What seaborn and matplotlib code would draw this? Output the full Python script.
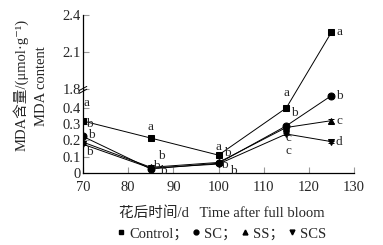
import numpy as np
import pandas as pd
import matplotlib
matplotlib.use("Agg")
import matplotlib.pyplot as plt
import seaborn as sns

# %% data
days = [70, 85, 100, 115, 125]
control = [0.32, 0.215, 0.11, 0.40, 2.26]
sc = [0.225, 0.025, 0.06, 0.29, 0.476]
ss = [0.19, 0.035, 0.065, 0.28, 0.322]
scs = [0.177, 0.03, 0.055, 0.24, 0.193]
err_control = [0.01, 0.005, 0.005, 0.008, 0.02]
err_sc = [0.006, 0.004, 0.004, 0.008, 0.01]
err_ss = [0.006, 0.004, 0.004, 0.008, 0.012]
err_scs = [0.006, 0.004, 0.004, 0.008, 0.006]
groups = ["Control", "SC", "SS", "SCS"]
legend_labels = ["Control；", "SC；", "SS；", "SCS"]

# significance letters (day, value, text)
letters = [
    (70.8, 0.43, "a"), (71.5, 0.30, "b"), (71.8, 0.232, "b"), (71.4, 0.128, "b"),
    (85.0, 0.285, "a"), (87.4, 0.105, "b"), (86.3, 0.043, "b"), (87.8, 0.012, "b"),
    (100.1, 0.162, "a"), (102.0, 0.121, "b"), (101.4, 0.05, "b"), (103.3, 0.012, "b"),
    (115.1, 0.494, "a"), (116.7, 0.367, "b"), (115.4, 0.214, "c"), (115.4, 0.137, "c"),
    (126.7, 2.265, "a"), (126.7, 0.476, "b"), (126.7, 0.32, "c"), (126.7, 0.193, "d"),
]

yticks = [0, 0.1, 0.2, 0.3, 0.4, 1.8, 2.1, 2.4]
ytick_labels = ["0", "0.1", "0.2", "0.3", "0.4", "1.8", "2.1", "2.4"]
xticks = [70, 80, 90, 100, 110, 120, 130]

df = pd.DataFrame({
    "day": days * 4,
    "mda": control + sc + ss + scs,
    "err": err_control + err_sc + err_ss + err_scs,
    "group": np.repeat(groups, len(days)),
})

# %% broken axis as a piecewise linear scale
brk_y = [-10, 0, 0.5, 1.8, 2.4, 10]
brk_z = [-1625, 0, 81.25, 84, 158, 158 + 7.6 * 123.3]

def fwd(y):
    return np.interp(y, brk_y, brk_z)

def inv(z):
    return np.interp(z, brk_z, brk_y)

# %%
sns.set_style("ticks")
plt.rcParams["font.family"] = ["Liberation Serif", "Noto Sans CJK SC", "DejaVu Serif"]

fig = plt.figure(figsize=(3.83, 2.45), dpi=100)
ax = fig.add_axes([0.2167, 0.2939, 0.7076, 0.6449])
ax.set_yscale("function", functions=(fwd, inv))

markers = {"Control": "s", "SC": "o", "SS": "^", "SCS": "v"}
palette = {g: "black" for g in groups}
sns.lineplot(data=df, x="day", y="mda", hue="group", style="group",
             markers=markers, dashes=False, palette=palette, markersize=5,
             markeredgecolor="black", linewidth=0.7, legend=False, ax=ax)

for g in groups:
    d = df[df.group == g]
    ax.errorbar(d.day, d.mda, yerr=d.err, fmt="none", ecolor="black",
                elinewidth=0.7, capsize=2, capthick=0.7)

for x, y, t in letters:
    ax.text(x, y, t, fontsize=9.5, ha="center", va="center")

ax.set_xlim(70, 130)
ax.set_ylim(0, 2.4)
ax.set_xticks(xticks)
ax.set_yticks(yticks)
ax.set_yticklabels(ytick_labels)
ax.tick_params(direction="in", length=4, width=0.8, color="#999999",
               labelsize=10.5)
ax.tick_params(axis="y", pad=1.5)
ax.tick_params(axis="x", pad=5.5)
ax.set_xlabel("")
ax.set_ylabel("")
sns.despine(ax=ax)
for s in ["left", "bottom"]:
    ax.spines[s].set_linewidth(0.9)
    ax.spines[s].set_color("black")

# break mark on the y axis
for off in [0.0, -0.018]:
    ax.plot([-0.014, 0.014], [0.522 + off, 0.548 + off], color="black",
            lw=0.7, transform=ax.transAxes, clip_on=False)

# axis titles
fig.text(0.054, 0.655, "MDA含量/(μmol·g⁻¹)", rotation=90,
         ha="center", va="center", fontsize=10.5)
fig.text(0.109, 0.648, "MDA content", rotation=90, ha="center", va="center",
         fontsize=10.5)
fig.text(0.58, 0.13, "花后时间/d   Time after full bloom", ha="center",
         va="center", fontsize=10.5)

# legend
handles = [plt.Line2D([], [], marker=markers[g], color="black", ls="none",
                      markersize=3.5) for g in groups]
fig.legend(handles, legend_labels, loc="center", bbox_to_anchor=(0.58, 0.045),
           ncol=4, frameon=False, fontsize=10.5, handlelength=0.5,
           handletextpad=0.3, columnspacing=0.3, borderaxespad=0)

fig.savefig("out.png", dpi=100)
